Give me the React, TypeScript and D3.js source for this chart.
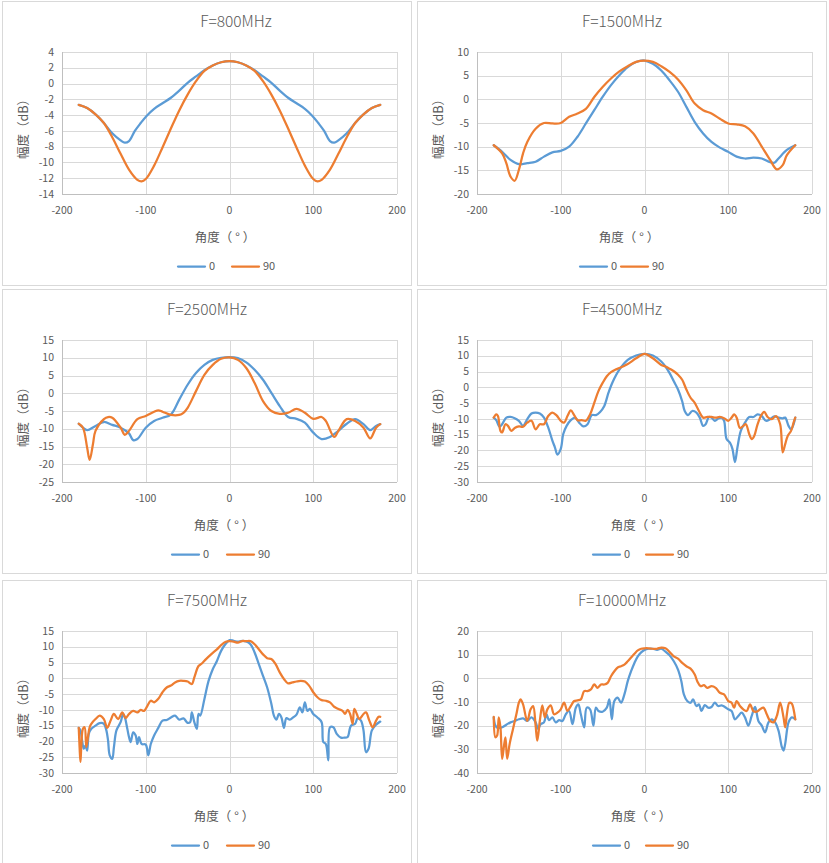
import React, { useEffect, useRef } from 'react';
import * as d3 from 'd3';

type Pt = [number, number];

// F=800MHz
const f800_0: Pt[] = [
  [-180, -2.7], [-170, -3.1], [-160, -3.9], [-150, -5.0], [-140, -6.3], [-130, -7.2], [-125, -7.5], [-120, -7.3],
  [-113, -6.0], [-106, -5.0], [-99, -4.1], [-90, -3.2], [-80, -2.5], [-70, -1.8], [-60, -0.9], [-50, 0.1],
  [-40, 0.9], [-30, 1.7], [-20, 2.3], [-10, 2.7], [0, 2.85], [10, 2.7], [20, 2.3], [30, 1.7], [40, 0.9],
  [50, 0.1], [60, -0.9], [70, -1.8], [80, -2.5], [90, -3.2], [99, -4.1], [106, -5.0], [113, -6.0], [120, -7.3],
  [125, -7.5], [130, -7.2], [140, -6.3], [150, -5.0], [160, -3.9], [170, -3.1], [180, -2.7],
];
const f800_90: Pt[] = [
  [-180, -2.7], [-170, -3.1], [-160, -3.9], [-150, -5.0], [-140, -6.8], [-130, -8.9], [-120, -10.9], [-110, -12.2],
  [-105, -12.4], [-100, -12.1], [-90, -10.4], [-80, -8.1], [-70, -5.7], [-60, -3.4], [-50, -1.4], [-40, 0.3],
  [-30, 1.6], [-20, 2.3], [-10, 2.7], [0, 2.85], [10, 2.7], [20, 2.3], [30, 1.6], [40, 0.3], [50, -1.4],
  [60, -3.4], [70, -5.7], [80, -8.1], [90, -10.4], [100, -12.1], [105, -12.4], [110, -12.2], [120, -10.9],
  [130, -8.9], [140, -6.8], [150, -5.0], [160, -3.9], [170, -3.1], [180, -2.7],
];

// F=1500MHz
const f1500_0: Pt[] = [
  [-180, -9.7], [-170, -11.1], [-160, -12.8], [-150, -13.7], [-140, -13.5], [-130, -13.2], [-120, -12.1],
  [-110, -11.2], [-100, -10.9], [-90, -10.0], [-80, -7.9], [-70, -5.1], [-60, -2.3], [-50, 0.5], [-40, 3.0],
  [-30, 5.1], [-20, 6.8], [-10, 7.9], [0, 8.2], [10, 7.5], [20, 6.1], [30, 4.0], [40, 1.6], [50, -1.6],
  [60, -4.8], [70, -7.2], [80, -9.0], [90, -10.2], [100, -11.1], [110, -12.1], [120, -12.5], [130, -12.3],
  [140, -12.5], [150, -13.3], [155, -13.4], [160, -12.5], [170, -10.7], [180, -9.7],
];
const f1500_90: Pt[] = [
  [-180, -9.7], [-170, -11.4], [-165, -13.5], [-160, -16.3], [-155, -17.2], [-150, -14.9], [-145, -11.4],
  [-140, -9.0], [-130, -6.2], [-120, -5.0], [-110, -5.1], [-100, -5.0], [-90, -3.7], [-80, -3.0], [-70, -2.0],
  [-60, 0.5], [-50, 2.6], [-40, 4.4], [-30, 5.9], [-20, 7.0], [-10, 7.9], [0, 8.2], [10, 7.9], [20, 7.0],
  [30, 5.8], [40, 4.2], [50, 1.9], [60, -0.9], [70, -2.3], [80, -3.0], [90, -4.1], [100, -5.1], [110, -5.3],
  [120, -5.7], [130, -7.2], [140, -10.0], [150, -12.8], [158, -14.8], [165, -13.9], [170, -11.8], [180, -9.7],
];

// F=2500MHz
const f2500_0: Pt[] = [
  [-180, -8.6], [-175, -9.7], [-170, -10.4], [-160, -9.2], [-150, -8.1], [-140, -8.9], [-130, -9.7],
  [-120, -11.3], [-115, -13.2], [-110, -12.9], [-100, -9.7], [-90, -7.8], [-80, -6.9], [-70, -6.0], [-60, -1.8],
  [-50, 2.4], [-40, 5.7], [-30, 8.0], [-20, 9.4], [-10, 10.0], [0, 10.2], [10, 9.9], [20, 8.7], [30, 6.6],
  [40, 3.8], [50, 0.1], [60, -3.6], [70, -6.7], [80, -7.2], [90, -8.3], [100, -11.1], [110, -12.9], [120, -12.3],
  [130, -10.6], [140, -8.6], [150, -7.3], [160, -8.7], [168, -10.4], [175, -9.2], [180, -8.7],
];
const f2500_90: Pt[] = [
  [-180, -8.6], [-175, -9.7], [-170, -15.3], [-167, -18.8], [-163, -14.3], [-160, -10.6], [-150, -7.3],
  [-145, -6.7], [-140, -6.9], [-130, -9.7], [-125, -11.7], [-120, -10.6], [-110, -7.3], [-100, -6.4],
  [-90, -5.2], [-85, -4.8], [-80, -5.2], [-70, -6.1], [-60, -6.1], [-55, -5.5], [-50, -4.1], [-40, 0.6],
  [-30, 5.2], [-20, 8.0], [-10, 9.7], [0, 10.1], [10, 9.4], [20, 7.1], [30, 2.9], [40, -2.2], [50, -5.0],
  [60, -5.8], [70, -5.5], [80, -4.4], [90, -5.5], [100, -7.2], [110, -6.7], [115, -7.8], [125, -12.3],
  [130, -10.6], [140, -7.3], [150, -7.8], [160, -9.7], [168, -12.7], [175, -9.7], [180, -8.7],
];

// F=4500MHz
const f4500_0: Pt[] = [
  [-180, -9.6], [-177, -10.4], [-173, -12.5], [-170, -11.7], [-165, -9.6], [-160, -9.4], [-155, -9.8],
  [-150, -10.6], [-145, -12.2], [-140, -10.1], [-135, -8.3], [-130, -8.0], [-125, -8.3], [-120, -9.6],
  [-115, -12.7], [-110, -16.9], [-107, -19.0], [-104, -21.3], [-100, -19.5], [-97, -14.8], [-93, -12.2],
  [-88, -10.4], [-83, -9.6], [-78, -11.2], [-73, -12.4], [-68, -11.7], [-63, -8.8], [-58, -8.8], [-53, -7.8],
  [-48, -5.9], [-43, -1.7], [-38, 1.7], [-30, 5.6], [-20, 8.7], [-10, 10.1], [0, 10.6], [10, 10.1], [20, 8.2],
  [25, 6.6], [30, 4.5], [35, 1.9], [40, -0.7], [45, -4.4], [48, -7.5], [52, -8.8], [57, -7.5], [62, -8.0],
  [66, -9.6], [70, -12.2], [73, -11.7], [77, -9.4], [80, -9.6], [84, -10.6], [88, -9.9], [92, -9.6],
  [95, -10.6], [98, -16.4], [102, -17.5], [105, -19.5], [108, -23.7], [111, -19.0], [115, -13.8],
  [120, -11.2], [125, -9.4], [130, -9.4], [135, -8.6], [140, -9.1], [145, -10.6], [150, -10.1], [155, -9.2],
  [160, -9.6], [165, -9.8], [168, -9.6], [172, -12.2], [175, -13.3], [178, -11.7], [180, -9.6],
];
const f4500_90: Pt[] = [
  [-180, -9.6], [-177, -8.6], [-175, -9.1], [-172, -13.8], [-170, -14.3], [-166, -11.7], [-163, -12.2],
  [-159, -13.8], [-155, -12.9], [-150, -12.4], [-145, -12.5], [-140, -11.2], [-135, -10.6], [-130, -13.3],
  [-125, -11.7], [-120, -11.7], [-115, -9.1], [-110, -8.0], [-105, -8.9], [-100, -10.6], [-96, -11.2],
  [-92, -9.1], [-88, -7.3], [-84, -8.8], [-80, -10.4], [-75, -10.4], [-70, -10.6], [-65, -8.6], [-60, -4.9],
  [-55, -1.2], [-50, 1.4], [-45, 3.5], [-40, 4.8], [-35, 5.6], [-30, 6.1], [-20, 7.4], [-10, 9.2], [0, 10.6],
  [10, 9.2], [20, 7.1], [25, 6.6], [30, 5.9], [35, 5.1], [40, 4.0], [45, 2.4], [50, -0.7], [55, -3.3],
  [60, -4.9], [65, -7.5], [70, -9.6], [75, -9.4], [80, -9.4], [85, -9.6], [90, -9.4], [95, -9.8], [100, -10.6],
  [104, -9.6], [107, -8.6], [110, -9.6], [114, -12.9], [118, -12.2], [121, -11.7], [125, -14.8], [128, -16.4],
  [131, -15.4], [135, -11.7], [140, -8.6], [143, -7.8], [147, -9.4], [152, -10.1], [157, -9.1], [162, -11.7],
  [165, -20.6], [168, -18.0], [171, -15.4], [175, -13.8], [178, -11.2], [180, -9.6],
];

// F=7500MHz
const f7500_0: Pt[] = [
  [-180, -15.7], [-178, -16.5], [-176, -19.7], [-174, -22.3], [-172, -21.3], [-170, -22.9], [-168, -17.6],
  [-165, -16.0], [-160, -15.0], [-155, -14.2], [-150, -14.4], [-147, -16.5], [-145, -19.7], [-143, -24.4],
  [-140, -25.5], [-138, -21.8], [-135, -16.5], [-130, -13.9], [-127, -11.3], [-125, -12.3], [-122, -16.0],
  [-120, -18.6], [-118, -20.2], [-115, -17.1], [-112, -18.1], [-110, -20.8], [-108, -18.6], [-105, -20.8],
  [-100, -21.0], [-97, -24.4], [-94, -20.8], [-90, -18.1], [-85, -15.7], [-80, -13.4], [-75, -13.2],
  [-70, -12.4], [-65, -11.8], [-60, -13.1], [-55, -12.7], [-50, -14.1], [-47, -13.9], [-45, -10.8],
  [-42, -13.9], [-39, -16.0], [-37, -11.3], [-35, -11.8], [-30, -6.6], [-25, -0.8], [-20, 2.9], [-15, 5.5],
  [-10, 8.7], [-5, 10.8], [0, 12.1], [5, 11.9], [10, 11.6], [15, 11.9], [20, 11.7], [25, 10.8], [30, 8.2],
  [35, 4.5], [40, 0.8], [45, -2.9], [50, -8.1], [53, -11.8], [56, -13.1], [59, -11.3], [62, -12.4],
  [65, -15.7], [68, -12.6], [72, -13.1], [76, -12.4], [80, -11.5], [84, -9.2], [87, -10.8], [90, -7.6],
  [93, -10.3], [96, -9.7], [100, -11.3], [105, -12.4], [110, -13.9], [112, -20.2], [115, -20.8], [118, -26.0],
  [120, -15.5], [124, -15.5], [128, -17.6], [133, -18.8], [137, -18.8], [141, -18.6], [145, -15.0],
  [150, -14.4], [153, -12.6], [157, -13.4], [160, -16.5], [163, -23.4], [166, -22.3], [170, -16.5],
  [175, -14.7], [180, -13.7],
];
const f7500_90: Pt[] = [
  [-180, -15.7], [-179, -21.8], [-178, -26.5], [-177, -21.8], [-175, -16.0], [-173, -15.5], [-171, -21.8],
  [-169, -18.6], [-167, -15.5], [-165, -14.4], [-160, -12.9], [-155, -11.8], [-150, -12.9], [-146, -15.7],
  [-142, -13.4], [-138, -11.3], [-133, -12.9], [-128, -10.8], [-124, -12.6], [-120, -11.3], [-115, -10.3],
  [-110, -10.8], [-106, -10.0], [-102, -10.3], [-98, -8.7], [-94, -7.1], [-90, -7.6], [-85, -6.5],
  [-80, -4.4], [-75, -2.9], [-70, -2.3], [-65, -1.3], [-60, -0.8], [-55, -0.8], [-50, -1.0], [-45, -1.8],
  [-42, 0.3], [-37, 3.9], [-33, 4.7], [-28, 6.1], [-22, 7.6], [-15, 9.2], [-10, 10.5], [-5, 11.5], [0, 11.8],
  [5, 11.6], [10, 11.3], [15, 11.8], [20, 11.8], [25, 11.8], [30, 10.8], [35, 9.2], [40, 7.6], [45, 6.4],
  [50, 6.1], [55, 4.5], [60, 1.9], [65, -0.2], [70, -1.6], [75, -1.3], [80, -1.0], [85, -0.8], [90, -1.0],
  [95, -2.3], [100, -4.4], [105, -6.0], [110, -6.9], [115, -7.1], [120, -7.6], [125, -9.0], [130, -9.7],
  [135, -10.3], [138, -11.3], [141, -10.0], [144, -11.3], [147, -14.4], [149, -9.7], [152, -11.3],
  [155, -12.9], [160, -11.3], [163, -10.8], [167, -13.4], [171, -15.5], [175, -13.4], [178, -12.2], [180, -12.2],
];

// F=10000MHz
const f10000_0: Pt[] = [
  [-180, -16.5], [-178, -20.0], [-175, -21.0], [-170, -20.7], [-165, -19.6], [-160, -18.6], [-155, -18.0],
  [-150, -17.3], [-145, -16.9], [-140, -18.0], [-135, -16.5], [-130, -18.6], [-127, -21.4], [-124, -19.4],
  [-120, -18.6], [-117, -15.2], [-114, -17.7], [-110, -16.5], [-106, -18.6], [-102, -17.7], [-98, -18.0],
  [-94, -15.2], [-90, -13.8], [-86, -19.4], [-82, -12.4], [-79, -11.0], [-76, -15.2], [-72, -20.7],
  [-69, -12.4], [-65, -13.1], [-61, -20.0], [-58, -12.4], [-55, -13.8], [-50, -14.1], [-45, -12.4],
  [-42, -8.9], [-39, -17.3], [-36, -9.6], [-32, -8.2], [-28, -10.3], [-24, -6.8], [-20, -1.2], [-16, 3.0],
  [-12, 6.5], [-8, 9.3], [-4, 11.0], [0, 12.0], [5, 12.5], [10, 12.5], [15, 12.0], [20, 12.5], [25, 11.3],
  [30, 9.7], [35, 7.2], [40, 3.7], [44, -1.2], [47, -6.8], [51, -9.6], [55, -10.3], [58, -8.9], [62, -11.7],
  [65, -11.0], [68, -13.8], [72, -11.3], [76, -12.4], [80, -12.1], [84, -10.3], [88, -11.7], [92, -11.4],
  [96, -12.1], [100, -13.1], [104, -13.8], [108, -17.3], [112, -15.9], [116, -14.5], [120, -16.5],
  [124, -20.0], [128, -15.9], [132, -12.1], [136, -18.0], [140, -20.0], [144, -22.8], [148, -18.6],
  [152, -17.3], [156, -18.6], [160, -22.1], [164, -29.0], [166, -30.5], [168, -27.7], [172, -18.6],
  [176, -16.5], [180, -17.3],
];
const f10000_90: Pt[] = [
  [-180, -16.3], [-178, -24.9], [-176, -24.2], [-174, -16.5], [-172, -20.7], [-170, -34.0], [-168, -29.1],
  [-166, -24.9], [-164, -34.0], [-161, -27.7], [-157, -21.4], [-153, -15.2], [-150, -10.3], [-148, -8.9],
  [-145, -11.0], [-140, -18.0], [-136, -13.1], [-133, -11.7], [-130, -20.0], [-128, -26.3], [-125, -18.0],
  [-122, -11.4], [-119, -16.5], [-116, -13.1], [-112, -11.4], [-108, -15.2], [-104, -14.5], [-100, -13.1],
  [-96, -10.3], [-92, -13.8], [-88, -11.7], [-84, -9.6], [-80, -9.3], [-76, -8.9], [-72, -5.4], [-68, -5.4],
  [-64, -4.7], [-60, -2.6], [-56, -4.0], [-52, -2.6], [-48, -2.6], [-44, -1.9], [-40, 0.9], [-36, 3.0],
  [-32, 4.6], [-28, 5.1], [-24, 5.8], [-20, 7.2], [-16, 8.8], [-12, 10.4], [-8, 11.8], [-4, 12.5], [0, 12.7],
  [5, 12.7], [10, 12.5], [15, 12.5], [20, 13.0], [25, 12.7], [30, 11.1], [35, 9.3], [40, 8.3], [45, 6.5],
  [50, 5.1], [55, 4.1], [60, 1.6], [63, -1.2], [67, -3.3], [71, -2.9], [75, -4.0], [80, -3.3], [85, -4.0],
  [90, -6.1], [95, -6.8], [100, -9.6], [104, -10.3], [107, -12.4], [110, -9.6], [114, -11.7], [118, -13.1],
  [122, -13.8], [126, -11.0], [130, -13.8], [134, -14.1], [138, -13.1], [142, -12.4], [146, -15.2],
  [150, -18.0], [154, -18.6], [158, -15.9], [162, -10.3], [166, -16.5], [168, -20.7], [170, -15.2],
  [173, -10.3], [176, -10.7], [178, -13.1], [180, -17.3],
];

const xTicks = [-200, -100, 0, 100, 200];
const seriesNames = ['0', '90'];
const seriesColors = ['#5B9BD5', '#ED7D31'];

interface Panel {
  title: string;
  col: number;
  row: number;
  yDomain: [number, number];
  yStep: number;
  data: [Pt[], Pt[]];
  titleX: number;
  xTitleX: number;
  legendX: number;
  legendGap: number;
}

const panels: Panel[] = [
  { title: 'F=800MHz', col: 0, row: 0, yDomain: [-14, 4], yStep: 2, data: [f800_0, f800_90], titleX: 234, xTitleX: 223, legendX: 176, legendGap: 54 },
  { title: 'F=1500MHz', col: 1, row: 0, yDomain: [-20, 10], yStep: 5, data: [f1500_0, f1500_90], titleX: 205, xTitleX: 212, legendX: 163, legendGap: 41 },
  { title: 'F=2500MHz', col: 0, row: 1, yDomain: [-25, 15], yStep: 5, data: [f2500_0, f2500_90], titleX: 205, xTitleX: 222, legendX: 170, legendGap: 55 },
  { title: 'F=4500MHz', col: 1, row: 1, yDomain: [-30, 15], yStep: 5, data: [f4500_0, f4500_90], titleX: 205, xTitleX: 224, legendX: 176, legendGap: 53 },
  { title: 'F=7500MHz', col: 0, row: 2, yDomain: [-30, 15], yStep: 5, data: [f7500_0, f7500_90], titleX: 205, xTitleX: 222, legendX: 170, legendGap: 55 },
  { title: 'F=10000MHz', col: 1, row: 2, yDomain: [-40, 20], yStep: 10, data: [f10000_0, f10000_90], titleX: 205, xTitleX: 224, legendX: 176, legendGap: 53 },
];

const W = 829;
const H = 863;
const panelLeft = [2, 417];
const panelTop = [1, 289, 580];
const panelW = 409;
const panelH = 284;
const plot = { left: 60, right: 395, top: 51, bottom: 193 };
const FONT = "'Noto Sans CJK SC', 'Microsoft YaHei', sans-serif";
const TEXT = '#595959';

const App: React.FC = () => {
  const svgRef = useRef<SVGSVGElement>(null);

  useEffect(() => {
    document.body.style.margin = '0';
    const svg = d3.select(svgRef.current);
    svg.selectAll('*').remove();
    svg.attr('width', W).attr('height', H);

    svg.append('rect').attr('width', W).attr('height', H).attr('fill', '#ffffff');

    panels.forEach(p => {
      const g = svg.append('g')
        .attr('transform', `translate(${panelLeft[p.col]}, ${panelTop[p.row]})`)
        .style('font-family', FONT);

      // chart border
      g.append('rect')
        .attr('x', 0.5).attr('y', 0.5)
        .attr('width', panelW).attr('height', panelH)
        .attr('fill', '#fff').attr('stroke', '#d9d9d9');

      const x = d3.scaleLinear().domain([-200, 200]).range([plot.left, plot.right]);
      const y = d3.scaleLinear().domain(p.yDomain).range([plot.bottom, plot.top]);
      const yTicks = d3.range(p.yDomain[0], p.yDomain[1] + p.yStep / 2, p.yStep);

      // gridlines
      g.selectAll('.hgrid').data(yTicks).enter().append('line')
        .attr('x1', plot.left).attr('x2', plot.right)
        .attr('y1', d => Math.round(y(d)) + 0.5).attr('y2', d => Math.round(y(d)) + 0.5)
        .attr('stroke', '#d9d9d9');
      g.selectAll('.vgrid').data(xTicks).enter().append('line')
        .attr('y1', plot.top).attr('y2', plot.bottom)
        .attr('x1', d => Math.round(x(d)) + 0.5).attr('x2', d => Math.round(x(d)) + 0.5)
        .attr('stroke', '#d9d9d9');

      // axis lines
      g.append('line')
        .attr('x1', plot.left).attr('x2', plot.right)
        .attr('y1', Math.round(y(p.yDomain[0])) + 0.5).attr('y2', Math.round(y(p.yDomain[0])) + 0.5)
        .attr('stroke', '#bfbfbf');
      g.append('line')
        .attr('x1', Math.round(x(-200)) + 0.5).attr('x2', Math.round(x(-200)) + 0.5)
        .attr('y1', plot.top).attr('y2', plot.bottom)
        .attr('stroke', '#bfbfbf');

      // tick labels
      g.selectAll('.ylab').data(yTicks).enter().append('text')
        .attr('x', plot.left - 8)
        .attr('y', d => y(d))
        .attr('dy', '0.35em')
        .attr('text-anchor', 'end')
        .attr('font-size', 10.5)
        .attr('fill', TEXT)
        .text(d => String(d));
      g.selectAll('.xlab').data(xTicks).enter().append('text')
        .attr('x', d => x(d))
        .attr('y', plot.bottom + 16)
        .attr('dy', '0.35em')
        .attr('text-anchor', 'middle')
        .attr('font-size', 10.5)
        .attr('fill', TEXT)
        .text(d => String(d));

      // title
      g.append('text')
        .attr('x', p.titleX).attr('y', 21)
        .attr('dy', '0.35em')
        .attr('text-anchor', 'middle')
        .attr('font-size', 15.5)
        .attr('font-weight', 300)
        .attr('fill', TEXT)
        .text(p.title);

      // axis titles
      const xt = g.append('text')
        .attr('x', p.xTitleX).attr('y', 237)
        .attr('dy', '0.35em')
        .attr('text-anchor', 'middle')
        .attr('font-size', 12.5)
        .attr('fill', TEXT);
      xt.append('tspan').text('角度（');
      xt.append('tspan').attr('dx', 3).text('°');
      xt.append('tspan').attr('dx', 3).text('）');

      g.append('text')
        .attr('transform', `translate(22, ${(plot.top + plot.bottom) / 2 + 3}) rotate(-90)`)
        .attr('dy', '0.35em')
        .attr('text-anchor', 'middle')
        .attr('font-size', 12.5)
        .attr('fill', TEXT)
        .text('幅度（dB）');

      // series
      const line = d3.line<Pt>()
        .x(d => x(d[0]))
        .y(d => y(d[1]))
        .curve(d3.curveCatmullRom.alpha(0.5));
      p.data.forEach((s, i) => {
        g.append('path')
          .datum(s)
          .attr('d', line)
          .attr('fill', 'none')
          .attr('stroke', seriesColors[i])
          .attr('stroke-width', 2.25)
          .attr('stroke-linejoin', 'round')
          .attr('stroke-linecap', 'round');
      });

      // legend
      seriesNames.forEach((name, i) => {
        const lx = p.legendX + i * p.legendGap;
        g.append('line')
          .attr('x1', lx).attr('x2', lx + 27)
          .attr('y1', 265.5).attr('y2', 265.5)
          .attr('stroke', seriesColors[i])
          .attr('stroke-width', 2.25)
          .attr('stroke-linecap', 'round');
        g.append('text')
          .attr('x', lx + 31).attr('y', 265.5)
          .attr('dy', '0.35em')
          .attr('font-size', 11)
          .attr('fill', TEXT)
          .text(name);
      });
    });
  }, []);

  return <svg ref={svgRef} style={{ display: 'block' }}></svg>;
};

export default App;
